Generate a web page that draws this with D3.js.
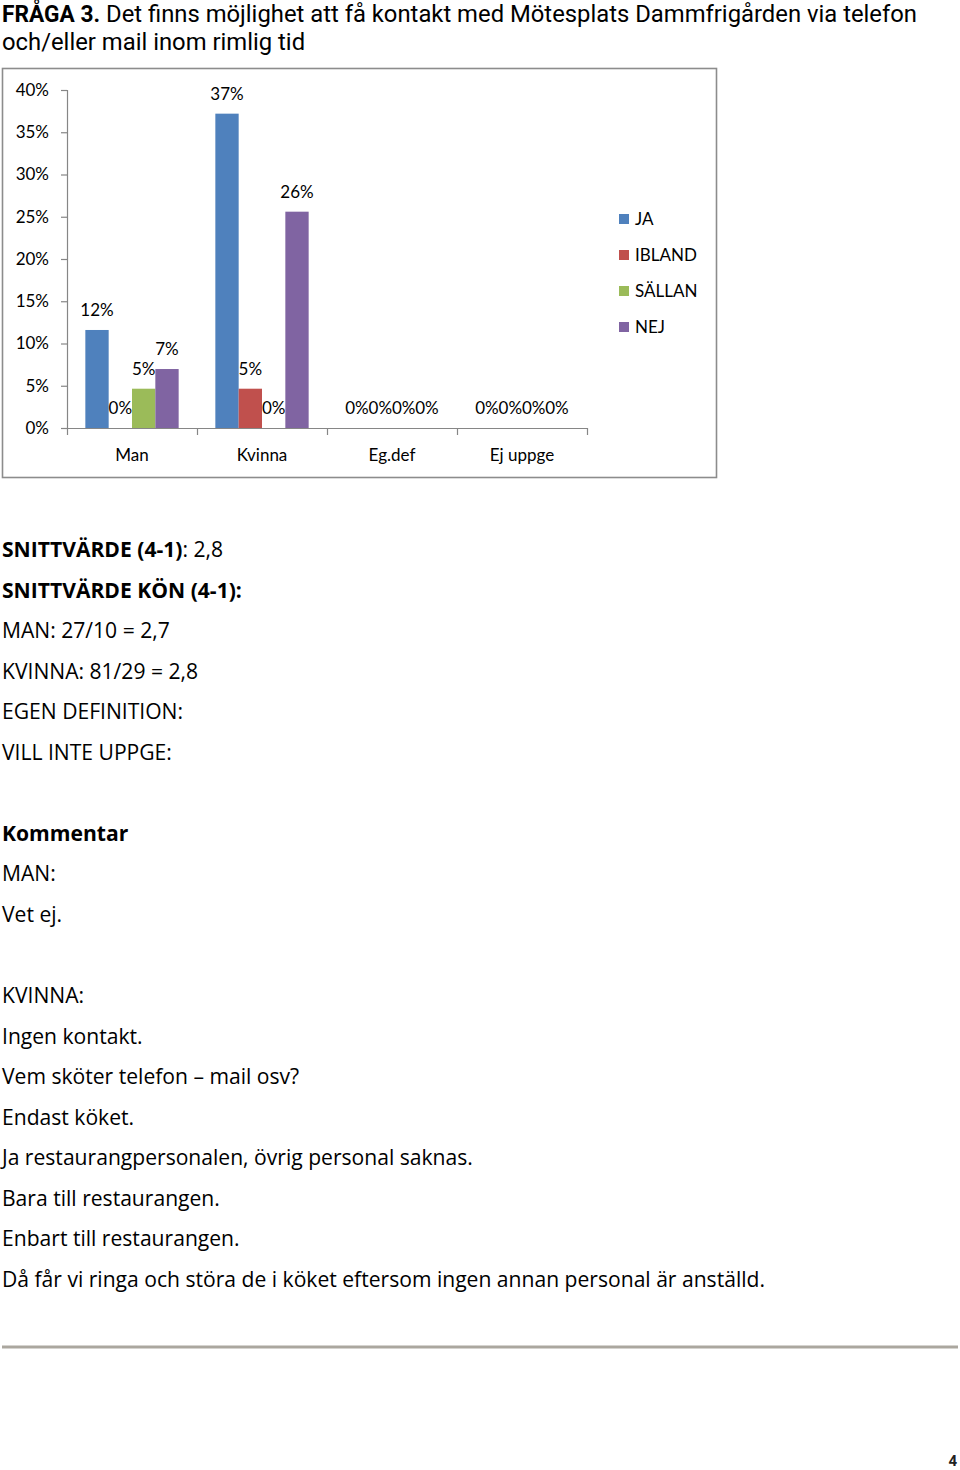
<!DOCTYPE html>
<html><head><meta charset="utf-8">
<script src="https://cdn.jsdelivr.net/npm/d3@7"></script>
<style>
html,body{margin:0;padding:0;background:#fff;}
svg{display:block;}
</style></head>
<body>
<svg id="page" width="960" height="1470"></svg>
<script>
// ---- data ----
const categories = ["Man", "Kvinna", "Eg.def", "Ej uppge"];
const series = ["JA", "IBLAND", "SÄLLAN", "NEJ"];
const colors = ["#4f81bd", "#c0504d", "#9bbb59", "#8064a2"];
const valJA     = [0.116, 0.372, 0, 0];
const valIBLAND = [0, 0.0465, 0, 0];
const valSALLAN = [0.0465, 0, 0, 0];
const valNEJ    = [0.0698, 0.256, 0, 0];
const yTicks = [0, 0.05, 0.10, 0.15, 0.20, 0.25, 0.30, 0.35, 0.40];

const titleBold = "FRÅGA 3.";
const titleLine1 = "Det finns möjlighet att få kontakt med Mötesplats Dammfrigården via telefon";
const titleLine2 = "och/eller mail inom rimlig tid";

// body text lines: [row index, bold part, regular part]
const bodyLines = [
  [0, "SNITTVÄRDE (4-1)", ": 2,8"],
  [1, "SNITTVÄRDE KÖN (4-1):", ""],
  [2, "", "MAN: 27/10 = 2,7"],
  [3, "", "KVINNA: 81/29 = 2,8"],
  [4, "", "EGEN DEFINITION:"],
  [5, "", "VILL INTE UPPGE:"],
  [7, "Kommentar", ""],
  [8, "", "MAN:"],
  [9, "", "Vet ej."],
  [11, "", "KVINNA:"],
  [12, "", "Ingen kontakt."],
  [13, "", "Vem sköter telefon – mail osv?"],
  [14, "", "Endast köket."],
  [15, "", "Ja restaurangpersonalen, övrig personal saknas."],
  [16, "", "Bara till restaurangen."],
  [17, "", "Enbart till restaurangen."],
  [18, "", "Då får vi ringa och störa de i köket eftersom ingen annan personal är anställd."]
];
const pageNumber = "4";

const values = [valJA, valIBLAND, valSALLAN, valNEJ];
const svg = d3.select("#page");

// ---- title ----
const tFont = "Roboto, 'Open Sans', sans-serif";
const tb = svg.append("text").attr("x", 2).attr("y", 22)
  .attr("font-family", tFont).attr("font-size", 23).attr("font-weight", 700).attr("fill", "#000")
  .text(titleBold);
tb.attr("textLength", 98).attr("lengthAdjust", "spacingAndGlyphs");
const t1 = svg.append("text").attr("x", 106).attr("y", 22)
  .attr("font-family", tFont).attr("font-size", 23).attr("fill", "#000").text(titleLine1);
const tw = t1.node().getComputedTextLength();
const tsx = 811 / tw;
t1.attr("textLength", 811).attr("lengthAdjust", "spacingAndGlyphs");
const t2 = svg.append("text").attr("x", 2).attr("y", 50)
  .attr("font-family", tFont).attr("font-size", 23).attr("fill", "#000").text(titleLine2);
t2.attr("textLength", t2.node().getComputedTextLength() * tsx).attr("lengthAdjust", "spacingAndGlyphs");

// ---- chart ----
svg.append("rect").attr("x", 2.5).attr("y", 68.5).attr("width", 714).attr("height", 409)
  .attr("fill", "#fff").attr("stroke", "#8c8c8c").attr("stroke-width", 1.6);

const cFont = "Lato, 'Open Sans', sans-serif";
const x0 = d3.scaleBand().domain(categories).range([67, 587]).paddingInner(0).paddingOuter(0);
const x1 = d3.scaleBand().domain(series).range([0, x0.bandwidth()]).paddingInner(0).paddingOuter(0.786);
const y = d3.scaleLinear().domain([0, 0.4]).range([428, 90]);

const yAxis = d3.axisLeft(y).tickValues(yTicks).tickFormat(d3.format(".0%")).tickSize(6).tickPadding(12);
const ya = svg.append("g").attr("transform", "translate(67,0)").call(yAxis);
ya.selectAll("path,line").attr("stroke", "#868686").attr("stroke-width", 1.2);
ya.select(".domain").attr("d", "M-6,90.5H0.5V428.5");
ya.selectAll("text").attr("font-family", cFont).attr("font-size", 17).attr("fill", "#000");

// x axis
const xa = svg.append("g");
xa.append("line").attr("x1", x0.range()[0]).attr("x2", x0.range()[1]).attr("y1", 428.5).attr("y2", 428.5)
  .attr("stroke", "#868686").attr("stroke-width", 1.2);
const edges = categories.map(c => x0(c)).concat([x0.range()[1]]);
xa.selectAll("line.tk").data(edges).enter().append("line").attr("class", "tk")
  .attr("x1", d => d + 0.5).attr("x2", d => d + 0.5).attr("y1", 428).attr("y2", 435)
  .attr("stroke", "#868686").attr("stroke-width", 1.2);
xa.selectAll("text").data(categories).enter().append("text")
  .attr("x", d => x0(d) + x0.bandwidth() / 2).attr("y", 461)
  .attr("text-anchor", "middle").attr("font-family", cFont).attr("font-size", 17).attr("fill", "#000")
  .text(d => d);

// bars
const pctFmt = d3.format(".0%");
series.forEach((s, si) => {
  const g = svg.append("g");
  g.selectAll("rect").data(categories).enter().append("rect")
    .attr("x", c => x0(c) + x1(s))
    .attr("width", x1.bandwidth())
    .attr("y", (c, i) => y(values[si][i]))
    .attr("height", (c, i) => y(0) - y(values[si][i]))
    .attr("fill", colors[si]);
  g.selectAll("text").data(categories).enter().append("text")
    .attr("x", c => x0(c) + x1(s) + x1.bandwidth() / 2)
    .attr("y", (c, i) => y(values[si][i]) - 14)
    .attr("text-anchor", "middle").attr("font-family", cFont).attr("font-size", 17).attr("fill", "#000")
    .text((c, i) => pctFmt(values[si][i]));
});

// legend
const lg = svg.append("g");
series.forEach((s, i) => {
  const cy = 219 + 36 * i;
  lg.append("rect").attr("x", 619).attr("y", cy - 5).attr("width", 10).attr("height", 10).attr("fill", colors[i]);
  lg.append("text").attr("x", 635).attr("y", cy + 6).attr("font-family", cFont).attr("font-size", 17)
    .attr("fill", "#000").text(s);
});

// ---- body text ----
const bFont = "'Open Sans', 'Noto Sans', sans-serif";
const body = svg.append("g");
const refT = body.append("text").attr("font-family", bFont).attr("font-size", 22)
  .text(bodyLines[bodyLines.length - 1][2]);
const bsx = 763 / refT.node().getComputedTextLength();
refT.remove();
bodyLines.forEach(([row, b, r]) => {
  const t = body.append("text").attr("x", 2).attr("y", 557 + 40.55 * row)
    .attr("font-family", bFont).attr("font-size", 22).attr("fill", "#000");
  if (b) t.append("tspan").attr("font-weight", 700).text(b);
  if (r) t.append("tspan").text(r);
  t.attr("textLength", t.node().getComputedTextLength() * bsx).attr("lengthAdjust", "spacingAndGlyphs");
});

// rule and page number
svg.append("rect").attr("x", 2).attr("y", 1345.5).attr("width", 956).attr("height", 3).attr("fill", "#aba79f");
svg.append("text").attr("x", 957).attr("y", 1466).attr("text-anchor", "end")
  .attr("font-family", "Roboto, sans-serif").attr("font-weight", 700).attr("font-size", 15)
  .attr("fill", "#222").text(pageNumber);
</script>
</body></html>
